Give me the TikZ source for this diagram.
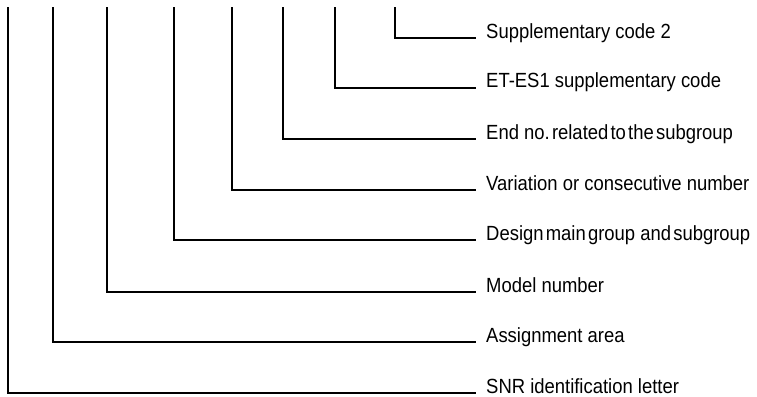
\documentclass[tikz,border=0pt]{standalone}
\usepackage{fontspec}
\setmainfont{Liberation Sans}
\usepackage{graphicx}
\usepackage{tikz}
\usetikzlibrary{calc}

\begin{document}
\begin{tikzpicture}[
    x=1pt, y=-1pt,
    lead/.style={line width=1.3pt, line cap=rect},
    lbl/.style={anchor=base west, inner sep=0pt, font=\fontsize{20.5}{24}\selectfont}
]
\useasboundingbox (0,0) rectangle (757,396);

% ---- leader lines, innermost first ----
\foreach \xv/\yv/\nm/\txt in {
    395/38/suppcode/{Supplementary code 2},
    335/88/etcode/{ET-ES1 supplementary code},
    283/139/endno/{End no.{\spaceskip=0.12em\ related to the subgroup}},
    232/190/variation/{Variation or consecutive number},
    174/240/design/{{\spaceskip=0.12em Design main group}\ {\spaceskip=0.12em and subgroup}},
    107/292/model/{Model number},
    53/342/assign/{Assignment area},
    8/393/snr/{SNR identification letter}} {
  \coordinate (\nm top) at (\xv,8);
  \coordinate (\nm end) at (475,\yv);
  \node[lbl] (\nm) at ($(\nm end)+(11,0)$) {\scalebox{0.9}[1]{\txt}};
  \draw[lead] (\nm top) |- (\nm end);
}

\end{tikzpicture}
\end{document}
